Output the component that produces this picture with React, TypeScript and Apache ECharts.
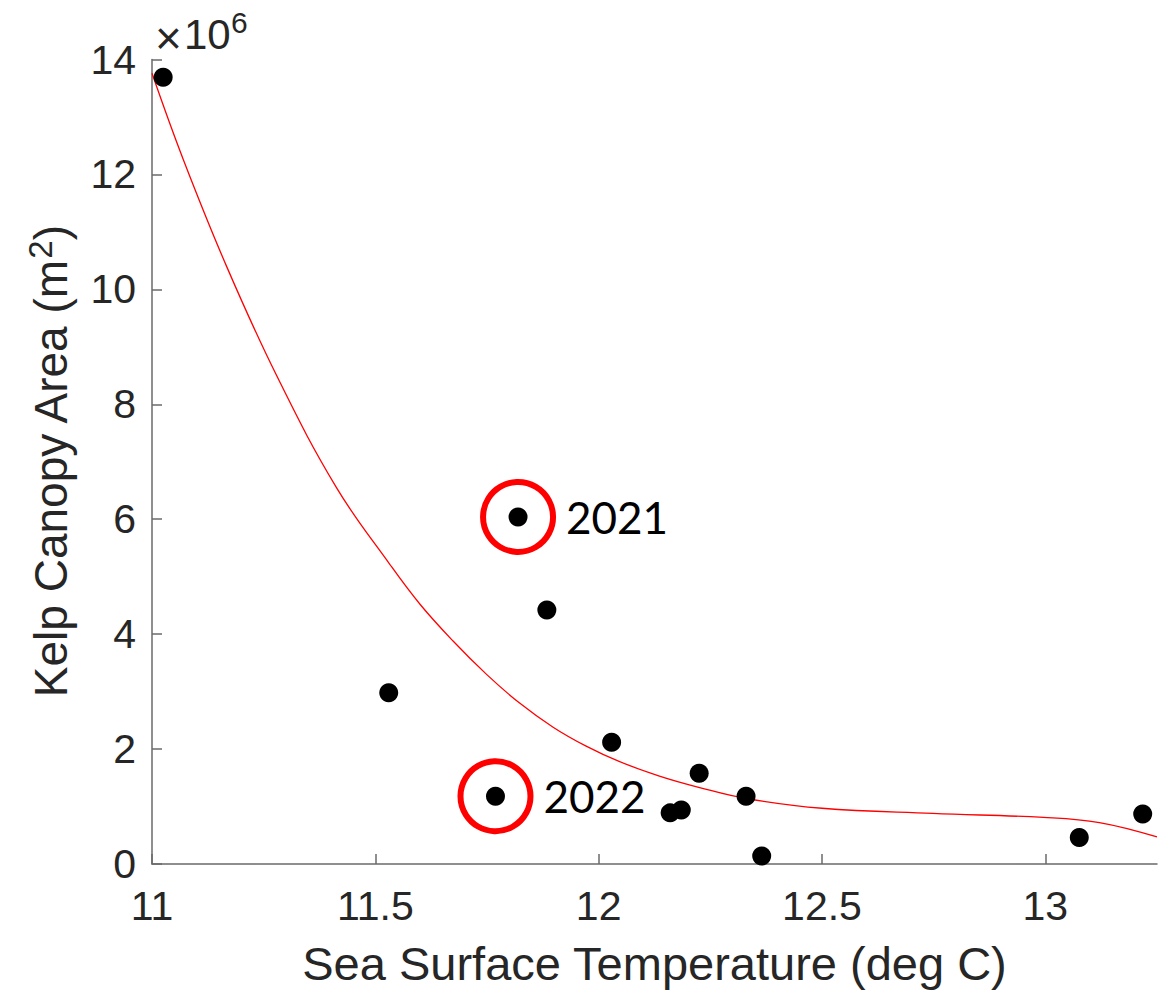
import React, { useEffect, useRef } from "react";
import * as echarts from "echarts";

// Sea surface temperature (deg C) of each observation
const sstValues = [11.025, 11.53, 11.769, 11.8195, 11.884, 12.029, 12.16, 12.185, 12.225, 12.33, 12.365, 13.076, 13.218];
// Kelp canopy area (m^2)
const kelpArea = [13.69e6, 2.98e6, 1.18e6, 6.04e6, 4.42e6, 2.12e6, 0.89e6, 0.94e6, 1.58e6, 1.18e6, 0.14e6, 0.46e6, 0.87e6];

// Highlighted years
const highlightYears = ["2021", "2022"];
const highlightSst = [11.8195, 11.769];
const highlightKelp = [6.04e6, 1.18e6];

// Fitted curve
const fitSst = [11.0, 11.07, 11.167, 11.279, 11.413, 11.532, 11.6, 11.674, 11.749, 11.823, 11.898, 11.972, 12.047, 12.136, 12.226, 12.33, 12.5, 12.748, 12.996, 13.121, 13.25];
const fitKelp = [13.76e6, 12.26e6, 10.4e6, 8.5e6, 6.55e6, 5.22e6, 4.52e6, 3.88e6, 3.3e6, 2.8e6, 2.38e6, 2.05e6, 1.78e6, 1.53e6, 1.33e6, 1.14e6, 0.97e6, 0.88e6, 0.81e6, 0.72e6, 0.47e6];

const xTicks = [11, 11.5, 12, 12.5, 13];
const yTicksMillions = [0, 2, 4, 6, 8, 10, 12, 14];

const AXIS_FONT = "'Liberation Sans', Arial, Helvetica, sans-serif";
const TEXT_COLOR = "#262626";
const AXIS_COLOR = "#6a6a6a";

export default function App() {
  const ref = useRef<HTMLDivElement>(null);

  useEffect(() => {
    if (!ref.current) return;
    const chart = echarts.init(ref.current, undefined, { renderer: "svg" });

    const option: any = {
      animation: false,
      backgroundColor: "#ffffff",
      grid: { left: 152, right: 10, top: 59.5, bottom: 131, containLabel: false },
      xAxis: {
        type: "value",
        min: 11,
        max: 13.25,
        interval: 0.5,
        name: "Sea Surface Temperature (deg C)",
        nameLocation: "middle",
        nameGap: 76,
        nameTextStyle: { fontSize: 47, color: TEXT_COLOR, fontFamily: AXIS_FONT },
        axisLine: { show: true, onZero: false, lineStyle: { color: AXIS_COLOR, width: 1.5 } },
        axisTick: { show: true, inside: true, length: 10, customValues: xTicks, lineStyle: { color: AXIS_COLOR, width: 1.5 } },
        axisLabel: {
          customValues: xTicks,
          fontSize: 41,
          color: TEXT_COLOR,
          fontFamily: AXIS_FONT,
          margin: 21,
          formatter: (v: number) => String(v),
        },
        splitLine: { show: false },
      },
      yAxis: {
        type: "value",
        min: 0,
        max: 14e6,
        interval: 2e6,
        name: "{n|Kelp Canopy Area (m}{s|2}{n|)}",
        nameLocation: "middle",
        nameGap: 75,
        nameRotate: 90,
        nameTextStyle: {
          fontSize: 46,
          color: TEXT_COLOR,
          fontFamily: AXIS_FONT,
          rich: {
            n: { fontSize: 46, color: TEXT_COLOR, fontFamily: AXIS_FONT },
            s: { fontSize: 33, color: TEXT_COLOR, fontFamily: AXIS_FONT, verticalAlign: "bottom", padding: [0, 0, 20, 0] },
          },
        },
        axisLine: { show: true, onZero: false, lineStyle: { color: AXIS_COLOR, width: 1.5 } },
        axisTick: { show: true, inside: true, length: 10, lineStyle: { color: AXIS_COLOR, width: 1.5 } },
        axisLabel: {
          fontSize: 41,
          color: TEXT_COLOR,
          fontFamily: AXIS_FONT,
          margin: 16,
          formatter: (v: number) => {
            const m = Math.round(v / 1e6);
            return yTicksMillions.indexOf(m) >= 0 ? String(m) : "";
          },
        },
        splitLine: { show: false },
      },
      graphic: [
        {
          type: "text",
          style: { text: "×", x: 155, y: 38, font: `46px ${AXIS_FONT}`, fill: TEXT_COLOR, textAlign: "left", textVerticalAlign: "middle" },
        },
        {
          type: "text",
          style: { text: "10", x: 184, y: 34, font: `42px ${AXIS_FONT}`, fill: TEXT_COLOR, textAlign: "left", textVerticalAlign: "middle" },
        },
        {
          type: "text",
          style: { text: "6", x: 231, y: 22, font: `30px ${AXIS_FONT}`, fill: TEXT_COLOR, textAlign: "left", textVerticalAlign: "middle" },
        },
      ],
      series: [
        {
          name: "fit",
          type: "line",
          data: fitSst.map((x, i) => [x, fitKelp[i]]),
          showSymbol: false,
          smooth: 0.4,
          clip: true,
          lineStyle: { color: "#ff0000", width: 1.3, opacity: 1 },
          z: 2,
        },
        {
          name: "highlight",
          type: "scatter",
          data: highlightSst.map((x, i) => [x, highlightKelp[i], highlightYears[i]]),
          symbol: "circle",
          symbolSize: 70,
          itemStyle: { color: "rgba(0,0,0,0)", borderColor: "#ff0000", borderWidth: 6, opacity: 1 },
          label: {
            show: true,
            position: "right",
            distance: 10,
            formatter: (p: any) => p.data[2],
            fontSize: 44,
            fontFamily: "Lato, 'Open Sans', sans-serif",
            color: "#000000",
          },
          z: 3,
        },
        {
          name: "observations",
          type: "scatter",
          data: sstValues.map((x, i) => [x, kelpArea[i]]),
          symbol: "circle",
          symbolSize: 19,
          itemStyle: { color: "#000000", opacity: 1 },
          z: 4,
        },
      ],
    };

    chart.setOption(option);
    return () => chart.dispose();
  }, []);

  return (
    <div
      ref={ref}
      style={{ position: "absolute", left: 0, top: 0, width: 1167, height: 995, background: "#fff" }}
    />
  );
}
